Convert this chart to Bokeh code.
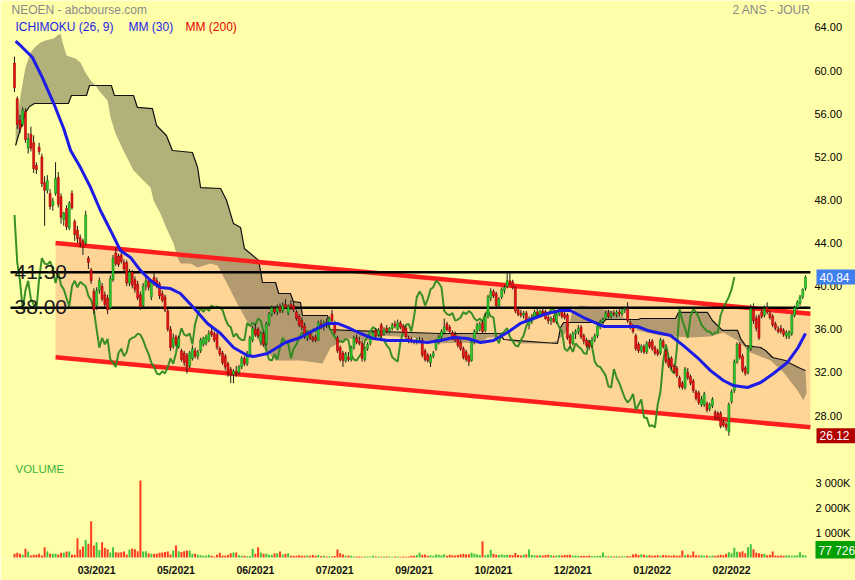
from bokeh.plotting import figure
from bokeh.models import ColumnDataSource, Range1d, FixedTicker, Label
from bokeh.embed import file_html
from bokeh.resources import INLINE

# ---------------- data ----------------
opens = [60.7, 57.4, 55.4, 55.0, 56.2, 52.8, 54.1, 53.3, 51.2, 52.9,
         52.0, 49.6, 48.9, 48.6, 47.5, 48.6, 50.1, 48.3, 46.2, 47.2,
         45.4, 48.6, 46.0, 45.2, 44.5, 44.2, 44.0, 42.6, 41.5, 39.5,
         38.2, 39.6, 40.0, 39.2, 38.9, 38.0, 40.6, 43.1, 42.8, 42.9,
         42.2, 42.2, 40.3, 41.3, 40.6, 40.2, 39.2, 38.2, 40.0, 40.5,
         39.0, 40.8, 40.5, 40.2, 39.3, 39.0, 37.7, 36.0, 34.4, 35.3,
         34.4, 34.0, 33.8, 33.6, 32.6, 33.3, 34.0, 33.5, 34.0, 34.6,
         34.7, 35.0, 35.8, 35.6, 35.5, 34.2, 33.8, 33.5, 32.8, 32.3,
         31.8, 32.1, 32.0, 32.5, 33.3, 32.8, 33.6, 35.0, 36.0, 36.0,
         34.8, 35.6, 34.7, 36.5, 37.4, 37.9, 37.6, 38.1, 37.7, 38.3,
         37.5, 38.3, 38.2, 37.6, 37.2, 36.8, 36.3, 35.2, 35.6, 35.2,
         35.3, 35.0, 36.5, 36.3, 36.6, 36.4, 37.4, 36.6, 35.2, 34.3,
         33.8, 33.1, 33.4, 33.2, 34.3, 35.2, 34.9, 34.7, 33.2, 34.2,
         34.7, 35.2, 35.9, 35.5, 36.4, 35.6, 36.1, 35.8, 36.1, 36.5,
         36.0, 36.6, 36.3, 36.1, 35.2, 35.1, 34.9, 34.8, 34.9, 35.0,
         34.0, 33.6, 32.9, 33.5, 34.2, 34.8, 35.3, 35.7, 36.5, 36.2,
         35.7, 35.5, 35.2, 34.8, 34.2, 33.9, 33.5, 33.1, 34.8, 35.8,
         36.0, 36.6, 35.9, 37.2, 38.9, 39.5, 39.3, 38.2, 39.0, 39.6,
         40.0, 40.5, 40.4, 39.9, 37.8, 37.5, 37.3, 37.5, 36.4, 36.7,
         37.1, 37.6, 37.4, 37.7, 37.6, 37.1, 36.8, 37.0, 36.7, 37.4,
         37.7, 37.4, 37.3, 35.4, 34.7, 35.6, 35.8, 36.2, 35.4, 35.0,
         34.8, 34.5, 35.0, 35.4, 36.2, 36.7, 37.0, 37.5, 37.2, 37.5,
         37.4, 37.6, 37.4, 37.8, 37.9, 36.6, 36.3, 35.4, 34.6, 34.0,
         34.4, 33.9, 34.8, 34.9, 34.3, 34.0, 33.8, 34.9, 34.0, 33.2,
         33.3, 32.6, 32.4, 31.5, 31.0, 30.6, 32.0, 31.6, 31.2, 30.2,
         30.1, 29.0, 29.0, 29.1, 28.6, 28.9, 28.3, 28.2, 28.2, 27.4,
         27.2, 26.5, 29.3, 30.3, 33.0, 34.6, 33.5, 32.4, 32.0, 34.2,
         37.8, 37.0, 37.2, 37.6, 37.3, 38.0, 37.5, 37.2, 36.5, 36.0,
         36.1, 35.9, 35.4, 35.3, 35.6, 37.3, 38.0, 38.4, 39.0, 39.8]
highs = [61.3, 57.6, 55.9, 56.6, 56.5, 54.2, 54.8, 54.0, 51.5, 53.3,
         52.3, 50.2, 50.3, 49.0, 48.2, 51.5, 50.6, 48.6, 46.9, 47.5,
         47.9, 48.9, 46.2, 45.6, 44.8, 44.4, 47.0, 42.8, 41.7, 39.8,
         39.9, 40.8, 40.3, 39.5, 39.2, 41.0, 42.9, 43.6, 43.0, 43.1,
         42.5, 42.4, 41.6, 41.5, 40.9, 40.5, 39.5, 40.3, 40.9, 40.7,
         40.6, 41.2, 40.8, 40.4, 39.6, 39.2, 37.9, 36.3, 35.6, 35.5,
         35.4, 34.2, 34.0, 33.8, 34.0, 34.5, 34.3, 34.1, 35.2, 35.3,
         35.5, 35.9, 36.3, 35.8, 35.7, 34.4, 34.0, 33.7, 33.0, 32.5,
         32.3, 32.6, 32.7, 33.5, 33.5, 34.0, 35.4, 36.3, 36.5, 36.2,
         35.8, 35.8, 36.7, 37.6, 38.2, 38.1, 38.3, 38.4, 38.5, 38.8,
         38.3, 38.7, 38.6, 37.8, 37.4, 37.1, 36.6, 35.8, 35.9, 35.4,
         35.5, 36.8, 36.9, 36.8, 37.0, 37.2, 37.8, 36.8, 35.4, 34.5,
         34.0, 33.9, 33.9, 34.5, 35.4, 35.5, 35.3, 35.0, 34.4, 34.8,
         35.4, 35.9, 36.1, 36.1, 36.6, 36.2, 36.4, 36.2, 36.6, 36.8,
         36.9, 36.8, 36.5, 36.3, 35.4, 35.3, 35.0, 35.2, 35.3, 35.2,
         34.2, 33.8, 33.7, 34.0, 35.1, 35.5, 36.0, 37.0, 36.7, 36.4,
         35.9, 35.8, 35.4, 35.0, 34.4, 34.1, 33.7, 35.0, 36.0, 36.6,
         36.7, 36.8, 37.5, 39.2, 39.8, 39.7, 39.5, 39.0, 39.9, 40.1,
         41.2, 41.3, 40.6, 40.0, 38.0, 37.8, 37.7, 37.7, 37.2, 37.4,
         37.8, 37.9, 37.8, 38.0, 37.8, 37.4, 37.2, 37.3, 37.6, 37.9,
         37.9, 37.6, 37.5, 35.6, 35.8, 36.0, 36.4, 36.4, 35.6, 35.2,
         35.0, 35.3, 35.6, 36.6, 36.9, 37.1, 37.7, 37.8, 37.7, 37.8,
         37.8, 37.9, 38.0, 38.1, 38.5, 36.8, 36.5, 35.6, 34.8, 34.6,
         34.6, 34.9, 35.1, 35.1, 34.5, 34.2, 35.2, 35.1, 34.2, 33.4,
         33.5, 32.8, 32.6, 31.7, 31.2, 32.5, 32.4, 31.8, 31.4, 30.4,
         30.3, 29.8, 30.2, 29.3, 29.2, 29.7, 28.5, 28.4, 28.4, 27.6,
         27.4, 29.2, 30.4, 33.2, 34.8, 34.8, 33.7, 32.6, 34.4, 38.3,
         38.4, 37.3, 37.4, 37.8, 38.2, 38.5, 37.7, 37.4, 36.7, 36.3,
         36.4, 36.1, 35.9, 35.9, 37.4, 38.2, 38.7, 39.2, 39.8, 41.0]
lows = [58.0, 54.6, 54.2, 54.8, 53.3, 52.3, 52.5, 50.5, 50.4, 52.2,
        49.2, 45.6, 48.6, 47.1, 47.0, 48.4, 47.3, 45.8, 45.6, 45.2,
        45.2, 47.1, 44.2, 44.0, 43.6, 42.9, 43.8, 41.6, 40.2, 37.4,
        37.8, 39.3, 38.6, 38.0, 37.4, 37.8, 40.4, 41.9, 41.8, 42.1,
        41.3, 40.0, 40.0, 39.8, 39.4, 38.7, 37.8, 38.0, 39.6, 39.6,
        38.7, 40.0, 39.8, 38.8, 38.5, 37.6, 35.8, 34.0, 34.2, 34.4,
        34.2, 33.0, 32.6, 31.9, 32.4, 33.1, 33.3, 33.2, 33.8, 34.4,
        34.5, 34.8, 35.3, 34.8, 34.1, 33.5, 32.7, 32.2, 31.6, 31.0,
        31.0, 31.6, 31.8, 32.3, 32.6, 32.6, 33.5, 34.8, 35.3, 35.2,
        34.5, 34.4, 34.5, 36.3, 37.2, 37.4, 37.3, 37.5, 37.5, 37.9,
        37.3, 37.8, 37.6, 36.8, 36.2, 35.9, 35.1, 34.9, 35.0, 34.8,
        34.8, 34.9, 36.0, 35.9, 36.1, 36.2, 36.6, 35.5, 33.8, 33.0,
        32.5, 32.9, 33.0, 33.0, 34.1, 34.6, 34.5, 33.0, 33.0, 34.0,
        34.5, 35.0, 35.2, 35.3, 35.2, 35.4, 35.6, 35.6, 35.9, 36.1,
        35.9, 36.0, 35.6, 35.1, 34.7, 34.7, 34.6, 34.6, 34.7, 33.4,
        33.0, 32.9, 32.5, 33.3, 34.0, 34.6, 35.1, 35.5, 35.8, 35.6,
        35.0, 34.8, 34.3, 34.0, 33.2, 33.0, 32.6, 33.0, 34.6, 35.6,
        35.8, 35.6, 35.7, 37.0, 38.6, 38.9, 38.0, 38.0, 38.8, 39.3,
        39.8, 40.1, 39.7, 37.5, 37.2, 37.1, 37.0, 36.6, 36.0, 36.5,
        37.0, 37.2, 37.1, 37.3, 36.9, 36.5, 36.4, 36.6, 36.5, 37.2,
        37.0, 36.9, 35.0, 34.3, 34.5, 35.1, 35.5, 35.1, 34.6, 34.3,
        34.1, 34.3, 34.8, 35.2, 36.0, 36.4, 36.8, 37.0, 37.0, 37.2,
        37.1, 37.2, 37.2, 37.5, 36.6, 36.0, 35.6, 34.0, 33.8, 33.8,
        33.7, 33.7, 34.2, 34.0, 33.6, 33.5, 33.6, 34.2, 32.8, 32.4,
        32.3, 31.9, 31.5, 30.5, 30.4, 30.4, 31.3, 30.8, 30.1, 29.4,
        29.0, 28.8, 28.8, 28.3, 28.4, 28.7, 27.6, 27.6, 26.8, 26.9,
        26.6, 26.12, 29.1, 30.1, 32.8, 33.2, 32.0, 31.7, 31.8, 34.0,
        36.5, 35.8, 35.0, 37.0, 37.1, 37.4, 36.9, 36.2, 35.9, 35.6,
        35.6, 35.3, 35.1, 35.1, 35.4, 37.1, 37.8, 38.2, 38.8, 39.6]
closes = [58.4, 55.0, 54.6, 56.3, 53.6, 53.7, 52.8, 50.9, 50.8, 52.5,
          49.5, 48.9, 49.8, 47.4, 47.9, 50.0, 47.6, 46.4, 46.8, 45.5,
          47.7, 47.3, 44.8, 44.4, 44.0, 43.6, 46.6, 42.2, 40.5, 37.8,
          39.6, 40.5, 38.8, 38.3, 37.8, 40.7, 42.6, 42.1, 42.0, 42.3,
          41.6, 40.3, 41.3, 40.1, 39.7, 38.9, 38.1, 40.0, 40.5, 39.9,
          40.4, 40.2, 40.0, 39.1, 38.7, 37.8, 36.0, 34.3, 35.2, 34.6,
          35.1, 33.2, 32.9, 32.5, 33.8, 34.2, 33.5, 33.9, 35.0, 35.2,
          35.3, 35.6, 35.5, 35.0, 34.3, 33.7, 32.9, 32.5, 31.9, 31.8,
          32.1, 31.9, 32.5, 33.3, 32.8, 33.8, 35.2, 36.1, 35.5, 35.4,
          35.6, 34.6, 36.5, 37.4, 38.0, 37.6, 38.0, 37.7, 38.2, 38.0,
          38.1, 38.0, 37.8, 37.0, 36.4, 36.2, 35.3, 35.6, 35.2, 35.0,
          35.0, 36.6, 36.3, 36.6, 36.4, 37.0, 36.8, 35.7, 34.0, 33.2,
          33.1, 33.7, 33.2, 34.3, 35.2, 34.8, 34.7, 33.3, 34.2, 34.6,
          35.2, 35.7, 35.4, 35.9, 35.4, 36.0, 35.8, 36.1, 36.4, 36.3,
          36.6, 36.2, 35.7, 35.3, 34.9, 34.9, 34.8, 35.1, 35.0, 33.6,
          33.2, 33.1, 33.5, 33.8, 34.9, 35.3, 35.8, 36.2, 36.0, 35.8,
          35.1, 35.0, 34.5, 34.2, 33.4, 33.2, 33.0, 34.8, 35.8, 36.4,
          36.5, 35.8, 37.2, 39.0, 39.5, 39.1, 38.2, 38.8, 39.7, 39.9,
          40.5, 40.3, 39.9, 37.7, 37.4, 37.3, 37.5, 36.8, 36.9, 37.1,
          37.6, 37.4, 37.7, 37.5, 37.0, 36.8, 37.0, 36.7, 37.4, 37.7,
          37.2, 37.1, 35.2, 34.7, 35.6, 35.8, 36.1, 35.3, 34.9, 34.5,
          34.4, 35.0, 35.4, 36.3, 36.7, 36.9, 37.5, 37.2, 37.5, 37.4,
          37.6, 37.4, 37.8, 37.9, 36.8, 36.2, 35.8, 34.2, 34.0, 34.4,
          33.9, 34.7, 34.4, 34.2, 33.8, 33.7, 35.0, 34.4, 33.0, 32.6,
          32.5, 32.1, 31.7, 30.7, 30.6, 32.3, 31.5, 31.0, 30.3, 29.6,
          29.2, 29.5, 30.0, 28.5, 29.0, 29.5, 27.8, 27.8, 27.0, 27.1,
          26.9, 29.0, 30.2, 33.0, 34.6, 33.4, 32.2, 31.9, 34.2, 37.9,
          36.8, 36.1, 35.2, 37.2, 37.9, 37.6, 37.1, 36.4, 36.1, 35.8,
          35.8, 35.5, 35.7, 35.7, 37.3, 38.0, 38.5, 39.0, 39.7, 40.84]
volumes_k = [150, 190, 150, 110, 350, 240, 80, 110, 110, 150,
             80, 410, 240, 150, 150, 150, 120, 190, 190, 240,
             240, 110, 110, 770, 320, 440, 710, 550, 1450, 480,
             610, 300, 610, 390, 330, 200, 410, 210, 200, 210,
             240, 120, 320, 360, 330, 250, 3080, 240, 250, 170,
             150, 150, 150, 190, 200, 220, 240, 120, 280, 480,
             250, 220, 250, 280, 280, 150, 150, 110, 90, 70,
             80, 110, 70, 40, 110, 190, 80, 70, 100, 170,
             200, 200, 90, 70, 70, 50, 60, 350, 150, 410,
             200, 150, 150, 110, 110, 170, 170, 240, 120, 150,
             170, 70, 70, 70, 90, 70, 70, 80, 70, 100,
             70, 100, 50, 70, 40, 50, 40, 60, 320, 170,
             120, 70, 80, 70, 40, 40, 40, 30, 40, 40,
             40, 70, 40, 40, 30, 40, 40, 40, 30, 40,
             40, 30, 40, 30, 40, 70, 70, 100, 190, 110,
             120, 70, 90, 70, 120, 110, 90, 130, 70, 110,
             90, 80, 100, 130, 150, 120, 130, 190, 150, 120,
             100, 650, 90, 120, 310, 150, 110, 100, 120, 100,
             110, 100, 90, 180, 100, 80, 110, 120, 320, 100,
             90, 80, 90, 80, 100, 110, 90, 70, 80, 90,
             80, 100, 100, 110, 70, 80, 70, 60, 70, 60,
             80, 50, 50, 60, 70, 200, 60, 40, 50, 40,
             50, 40, 50, 40, 60, 50, 120, 150, 100, 130,
             110, 80, 90, 70, 80, 90, 70, 100, 90, 80,
             70, 90, 70, 80, 280, 90, 120, 80, 240, 90,
             80, 90, 70, 80, 60, 80, 70, 80, 110, 90,
             150, 210, 170, 390, 230, 210, 250, 170, 410, 530,
             330, 190, 170, 140, 150, 90, 110, 240, 80, 70,
             80, 70, 90, 80, 70, 80, 90, 210, 100, 77.726]

mm30_x = [0.4, 2.8, 6.5, 10.1, 14.4, 18.0, 20.5, 24.1, 27.8, 31.4, 35.1, 38.7, 42.4,
          46.0, 49.7, 53.3, 57.0, 60.6, 65.4, 70.5, 75.3, 80.0, 85.1, 87.3, 92.4,
          99.0, 104.5, 109.2, 114.4, 118.0, 121.7, 126.4, 131.2, 136.3, 143.6, 150.9,
          155.6, 160.4, 165.5, 170.3, 175.0, 180.1, 184.8, 189.6, 194.7, 199.5, 203.1,
          207.9, 215.2, 221.4, 227.6, 231.3, 239.7, 244.4, 249.5, 254.3, 259.0, 262.7,
          267.8, 272.6, 277.3, 282.4, 286.1, 289.0]
mm30_y = [62.73, 62.17, 61.24, 59.39, 56.92, 54.6, 52.59, 51.0, 49.15, 47.02, 45.17, 43.31, 42.66,
          41.46, 40.53, 39.88, 39.78, 39.32, 38.02, 36.54, 35.61, 34.31, 33.57, 33.47, 33.75,
          34.77, 35.24, 35.89, 36.54, 36.54, 36.17, 35.61, 35.14, 34.96, 34.96, 34.77,
          34.96, 35.24, 35.14, 34.77, 34.96, 35.70, 36.54, 37.0, 37.47, 37.74, 37.74,
          37.09, 36.26, 36.26, 36.26, 35.89, 35.42, 34.49, 33.38, 32.17, 31.25, 30.78,
          30.60, 31.06, 31.90, 32.92, 34.22, 35.61]

span_a_x = [0.4, 2.2, 4.0, 5.9, 7.7, 9.5, 11.3, 14.3, 15.7, 16.8, 17.9, 19.0, 22.3, 24.1,
            25.9, 27.8, 29.6, 31.4, 34.0, 35.1, 36.9, 39.8, 43.5, 47.1, 49.7, 50.8, 53.3,
            55.9, 58.1, 59.6, 60.7, 64.3, 66.9, 71.6, 74.2, 77.1, 80.8, 84.4, 87.0, 89.2,
            91.7, 95.4, 104.5, 112.5, 115.5, 121.7, 129.0, 133.7, 145.8, 154.6, 163.0,
            170.3, 172.8, 176.5, 181.2, 184.9, 194.7, 198.4, 202.1, 203.9, 206.8, 217.8,
            223.2, 227.6, 236.0, 247.0, 254.3, 259.0, 264.2, 268.9, 276.2, 281.0, 286.1,
            288.3, 289.4]
span_a_y = [54.44, 57.69, 60.29, 61.68, 62.24, 62.61, 62.79, 62.98, 63.26, 63.44, 62.33, 61.40,
            61.12, 60.75, 59.82, 59.08, 58.62, 57.97, 57.23, 55.65, 54.17, 52.59, 50.73, 49.80,
            49.15, 47.95, 46.74, 45.17, 43.96, 42.66, 42.10, 42.10, 41.73, 42.10, 41.92, 40.53,
            38.67, 37.0, 35.89, 34.96, 34.03, 33.10, 33.10, 32.83, 34.31, 35.14, 34.96, 35.42,
            35.24, 34.68, 34.77, 34.68, 35.24, 35.24, 34.96, 34.68, 34.68, 34.96, 35.89, 37.74,
            38.21, 37.74, 37.0, 35.89, 35.42, 35.24, 35.33, 35.70, 34.96, 33.85, 33.10, 31.99,
            30.32, 29.39, 30.14]

span_b_x = [0.4, 2.2, 4.0, 5.5, 7.3, 19.7, 20.8, 26.3, 27.4, 35.4, 36.5, 43.5, 44.9, 50.4,
            51.9, 55.5, 57.7, 65.0, 66.9, 68.0, 75.3, 77.5, 80.0, 82.6, 84.0, 89.2, 90.6,
            95.4, 96.5, 100.8, 101.9, 104.5, 105.2, 114.4, 115.1, 121.7, 155.6, 177.6,
            178.7, 198.4, 199.5, 200.6, 215.2, 215.9, 228.0, 228.7, 241.5, 242.6, 253.2,
            255.0, 258.7, 264.2, 265.3, 267.1, 272.6, 274.4, 277.0, 281.7, 283.5, 287.2,
            289.0]
span_b_y = [53.05, 54.63, 56.11, 56.67, 56.95, 56.95, 57.69, 57.69, 58.62, 58.62, 57.69, 57.69,
            56.58, 56.48, 54.91, 53.98, 52.59, 52.40, 51.01, 49.15, 49.06, 47.95, 45.81, 45.44,
            43.50, 42.38, 40.34, 40.34, 39.32, 39.32, 38.58, 38.48, 37.28, 37.28, 35.98, 35.89,
            35.61, 35.61, 35.05, 34.68, 36.17, 36.63, 36.63, 36.91, 36.91, 37.0, 37.0, 37.56,
            37.56, 36.81, 35.89, 35.89, 35.14, 34.49, 34.31, 34.03, 33.38, 33.10, 32.83, 32.36,
            32.18]

channel_x = [15.0, 290.8]
channel_upper = [44.0, 37.45]
channel_lower = [33.4, 26.9]

levels = [41.30, 38.00]
level_labels = ["41.30", "38.00"]

price_ticks = [28, 32, 36, 40, 44, 48, 52, 56, 60, 64]
volume_ticks = [1_000_000, 2_000_000, 3_000_000]
volume_tick_labels = ["1 000K", "2 000K", "3 000K"]
date_ticks = [30, 59, 88, 117, 146, 175, 204, 233, 262]
date_labels = ["03/2021", "05/2021", "06/2021", "07/2021", "09/2021",
               "10/2021", "12/2021", "01/2022", "02/2022"]

last_close = 40.84
period_low = 26.12
last_volume_text = "77 726"

# ---------------- styles ----------------
BG = "#FFFFAA"
CHANNEL_FILL = "#FFD596"
RED_LINE = "#FF1E1E"
UP_FILL, UP_EDGE = "#2ED12E", "#107A10"
DN_FILL, DN_EDGE = "#EE1515", "#9A0000"
VOL_UP, VOL_DN = "#3EC43E", "#FF3A1E"
FONT = "Liberation Sans"

n = len(closes)
idx = list(range(n))
up = [c >= o for o, c in zip(opens, closes)]

candles = ColumnDataSource(dict(
    x=idx, o=opens, h=highs, l=lows, c=closes,
    top=[max(o, c) for o, c in zip(opens, closes)],
    bottom=[min(o, c) for o, c in zip(opens, closes)],
    fill=[UP_FILL if u else DN_FILL for u in up],
    edge=[UP_EDGE if u else DN_EDGE for u in up],
))
vol = ColumnDataSource(dict(
    x=idx, v=[v * 1000 for v in volumes_k],
    color=[VOL_UP if u else VOL_DN for u in up],
))

p = figure(width=855, height=580,
           x_range=Range1d(-5.115, 307.27), y_range=Range1d(14.733, 66.505),
           y_axis_location=None, output_backend="svg", toolbar_location=None,
           min_border_left=0, min_border_top=0, min_border_right=0, min_border_bottom=22,
           background_fill_color=BG, border_fill_color=BG, outline_line_color=None)
p.extra_y_ranges = {"vol": Range1d(-40000, 22280000)}
p.xgrid.visible = False
p.ygrid.visible = False

xa = p.xaxis[0]
xa.ticker = FixedTicker(ticks=date_ticks)
xa.major_label_overrides = {t: s for t, s in zip(date_ticks, date_labels)}
xa.axis_line_color = None
xa.major_tick_line_color = None
xa.minor_tick_line_color = None
xa.major_tick_out = 0
xa.major_tick_in = 0
xa.major_label_standoff = 5
xa.major_label_text_font = FONT
xa.major_label_text_font_size = "10.5px"
xa.major_label_text_font_style = "bold"
xa.major_label_text_color = "#111111"

# channel fill
p.patch(x=[channel_x[0], channel_x[1], channel_x[1], channel_x[0]],
        y=[channel_upper[0], channel_upper[1], channel_lower[1], channel_lower[0]],
        fill_color=CHANNEL_FILL, line_color=None)

# ichimoku cloud
p.patch(x=span_a_x + span_b_x[::-1], y=span_a_y + span_b_y[::-1],
        fill_color="#565140", fill_alpha=0.45, line_color=None)
p.line(span_b_x, span_b_y, line_color="#111111", line_width=1.2)

# channel lines
p.line(channel_x, channel_upper, line_color=RED_LINE, line_width=4.5)
p.line(channel_x, channel_lower, line_color=RED_LINE, line_width=4.5)

# chikou (close shifted 26 periods back)
p.line([i - 26 for i in idx[26:]], closes[26:], line_color="#2E8A1E", line_width=2, line_alpha=0.95)

# horizontal levels (from the left edge to the end of the channel)
for lv in levels:
    p.line([-1.46, channel_x[1]], [lv, lv], line_color="#000000", line_width=2.5)

# candles
p.segment(x0="x", y0="l", x1="x", y1="h", source=candles, line_color="#1A1A1A", line_width=1)
p.vbar(x="x", width=0.72, top="top", bottom="bottom", source=candles,
       fill_color="fill", line_color="edge", line_width=0.6)

# moving average 30
p.line(mm30_x, mm30_y, line_color="#1C1CE6", line_width=3)

# volume
p.vbar(x="x", width=0.72, top="v", bottom=0, source=vol, y_range_name="vol",
       fill_color="color", line_color=None)

# ---------------- texts ----------------
def lab(text, x, y, color, size, align="left", baseline="middle", yr="default", **kw):
    p.add_layout(Label(x=x, y=y, x_units="screen", y_units="data", y_range_name=yr,
                       text=text, text_color=color, text_font=FONT, text_font_size=size,
                       text_align=align, text_baseline=baseline, **kw))

lab("NEOEN - abcbourse.com", 11, 65.62, "#8A8A8A", "12px")
lab("2 ANS - JOUR", 810, 65.62, "#8A8A8A", "12px", align="right")
lab("ICHIMOKU (26, 9)", 15, 64.0, "#1C1CE6", "12px")
lab("MM (30)", 128, 64.0, "#1C1CE6", "12px")
lab("MM (200)", 185, 64.0, "#E60000", "12px")

for lv, s in zip(levels, level_labels):
    lab(s, 14, lv + 0.05, "#1A1A1A", "21px", baseline="alphabetic")

# right-hand price scale
for t in price_ticks:
    lab(f"{t:.2f}", 814, t, "#000000", "11px")

lab("VOLUME", 15, 3_560_000, "#3CB43C", "11.5px", yr="vol")
for t, s in zip(volume_ticks, volume_tick_labels):
    lab(s, 815, t, "#000000", "11px", yr="vol")

BOX_PAD = (3, 10, 3, 3)
lab(f"{last_close:.2f}", 816, last_close, "#FFFFFF", "12px",
    background_fill_color="#3F7FEF", padding=BOX_PAD)
lab(f"{period_low:.2f}", 816, period_low, "#FFFFFF", "12px",
    background_fill_color="#B00000", padding=BOX_PAD)
lab(last_volume_text, 815, 260000, "#FFFFFF", "12px", yr="vol",
    background_fill_color="#00A000", padding=BOX_PAD)

open("out.html", "w").write(file_html(p, INLINE))
